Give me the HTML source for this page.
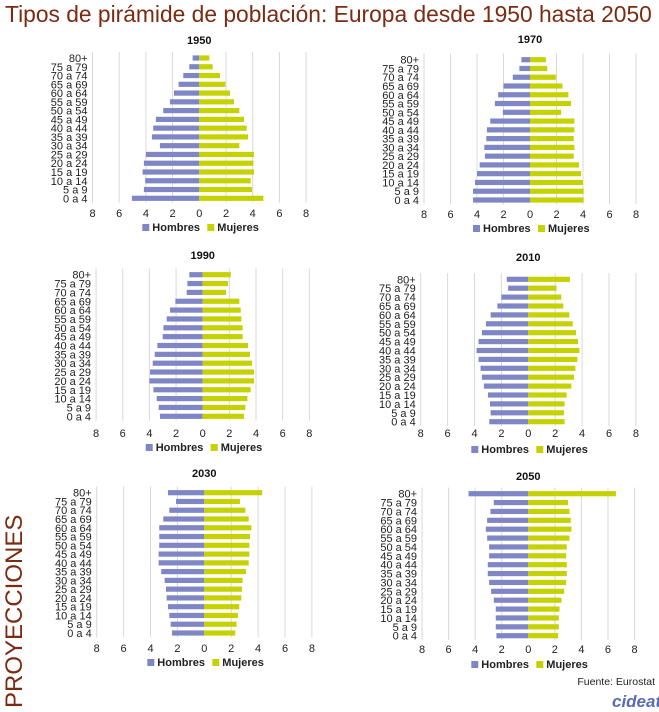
<!DOCTYPE html>
<html><head><meta charset="utf-8">
<style>
body{margin:0;background:#fff;}
svg{display:block;font-family:"Liberation Sans",sans-serif;}
</style></head>
<body>
<svg id="c" width="659" height="712" viewBox="0 0 659 712">
<text x="5" y="22" font-size="22.8" fill="#7b2b12">Tipos de pirámide de población: Europa desde 1950 hasta 2050</text>
<text transform="translate(22,708) rotate(-90)" font-size="24" fill="#7b2b12">PROYECCIONES</text>
<text x="655" y="685" font-size="10.5" text-anchor="end" fill="#222">Fuente:  Eurostat</text>
<g>
<text x="612" y="707" font-size="17" font-weight="bold" fill="#5b6bb5" font-style="italic">cideat</text>
</g>
</svg>
<script>
const ages=["0 a 4","5 a 9","10 a 14","15 a 19","20 a 24","25 a 29","30 a 34","35 a 39","40 a 44","45 a 49","50 a 54","55 a 59","60 a 64","65 a 69","70 a 74","75 a 79","80+"];
const ticks=[8,6,4,2,0,2,4,6,8];
const years=["1950","1970","1990","2010","2030","2050"];
const men1950=[5.05,4.15,4.05,4.25,4.15,4.0,2.95,3.55,3.45,3.25,2.7,2.2,1.9,1.55,1.2,0.75,0.5];
const women1950=[4.8,3.95,3.85,4.1,4.05,4.1,3.0,3.65,3.55,3.35,3.0,2.6,2.3,1.95,1.55,1.0,0.75];
const men1970=[4.3,4.3,4.15,4.0,3.8,3.4,3.45,3.3,3.25,3.0,2.05,2.65,2.4,2.0,1.3,0.8,0.65];
const women1970=[4.05,4.05,4.0,3.85,3.7,3.3,3.35,3.3,3.35,3.35,2.35,3.1,2.9,2.45,1.95,1.3,1.2];
const men1990=[3.2,3.3,3.45,3.7,4.0,3.95,3.75,3.6,3.4,3.0,2.95,2.7,2.45,2.05,1.2,1.15,1.0];
const women1990=[3.1,3.2,3.35,3.6,3.85,3.85,3.7,3.55,3.4,3.0,3.0,2.9,2.85,2.75,1.75,1.9,2.1];
const men2010=[2.9,2.8,2.85,3.0,3.3,3.45,3.55,3.7,3.85,3.7,3.45,3.15,2.8,2.3,2.0,1.5,1.6];
const women2010=[2.7,2.65,2.7,2.85,3.2,3.4,3.5,3.65,3.8,3.7,3.55,3.3,3.05,2.6,2.45,2.1,3.1];
const men2030=[2.4,2.5,2.6,2.7,2.8,2.85,2.95,3.2,3.4,3.4,3.35,3.35,3.35,3.05,2.6,2.1,2.7];
const women2030=[2.3,2.4,2.5,2.6,2.75,2.8,2.85,3.1,3.3,3.35,3.35,3.4,3.5,3.3,3.05,2.65,4.3];
const men2050=[2.4,2.45,2.45,2.45,2.6,2.8,2.95,3.05,3.05,2.95,2.95,3.1,3.2,3.1,2.85,2.6,4.5];
const women2050=[2.25,2.3,2.3,2.35,2.5,2.7,2.85,2.9,2.9,2.85,2.9,3.1,3.25,3.2,3.1,3.0,6.6];
const menSeries=[men1950,men1970,men1990,men2010,men2030,men2050];
const womenSeries=[women1950,women1970,women1990,women2010,women2030,women2050];
const geo=[
 {z:199.3,s:13.35,y0:198.3,y1:58,ty:44,tk:217,lg:231},
 {z:530,s:13.25,y0:200,y1:59.7,ty:43,tk:218,lg:232},
 {z:202.7,s:13.33,y0:416.3,y1:274.7,ty:259,tk:437,lg:451},
 {z:528.3,s:13.45,y0:421.7,y1:279.3,ty:261,tk:437,lg:453},
 {z:204.3,s:13.45,y0:633,y1:492.7,ty:477,tk:652,lg:666},
 {z:528.3,s:13.28,y0:635.7,y1:493.7,ty:480,tk:653,lg:668}
];
const NS="http://www.w3.org/2000/svg";
const svg=document.getElementById('c');
function mk(tag,attrs,parent){const e=document.createElementNS(NS,tag);for(const k in attrs)e.setAttribute(k,attrs[k]);parent.appendChild(e);return e;}
years.forEach((yr,p)=>{
 const g=geo[p];
 const xS=v=>g.z+v*g.s;
 const step=(g.y0-g.y1)/(ages.length-1);
 const yS=i=>g.y0-i*step;
 const grp=mk('g',{},svg);
 
 
 const title=mk('text',{x:g.z,y:g.ty,'font-size':11,'font-weight':'bold','text-anchor':'middle',fill:'#111'},grp);
 title.textContent=yr;
 
 
 const top=yS(ages.length-1)-step*0.7, bot=yS(0)+step*0.5;
 [-8,-6,-4,-2,2,4,6,8].forEach(v=>{
  const l=mk('line',{x1:xS(v),x2:xS(v),y1:top,y2:bot,stroke:'#d9d9d9','stroke-width':1},grp);
  
  
 });
 ticks.forEach((t,i)=>{
  const v=-8+i*2;
  const tx=mk('text',{x:xS(v),y:g.tk,'font-size':11,'text-anchor':'middle',fill:'#222'},grp);
  tx.textContent=t;
  
  
 });
 ages.forEach((a,i)=>{
  const y=yS(i);
  const lb=mk('text',{x:xS(-8)-5,y:y+4,'font-size':11,'text-anchor':'end',fill:'#222'},grp);
  lb.textContent=a;
  
  
  const m=menSeries[p][i], w=womenSeries[p][i];
  const bm=mk('rect',{x:xS(-m),y:y-2.6,width:m*g.s,height:5.2,fill:'#7f86c6'},grp);
  
  
  const bw=mk('rect',{x:g.z,y:y-2.6,width:w*g.s,height:5.2,fill:'#c6d200'},grp);
  
  
 });
 const lg=mk('g',{},grp);
 
 
 mk('rect',{x:g.z-57,y:g.lg-7,width:7,height:7,fill:'#7f86c6'},lg);
 const t1=mk('text',{x:g.z-47,y:g.lg,'font-size':11,'font-weight':'bold',fill:'#222'},lg);
 t1.textContent='Hombres';
 
 
 mk('rect',{x:g.z+8,y:g.lg-7,width:7,height:7,fill:'#c6d200'},lg);
 const t2=mk('text',{x:g.z+18,y:g.lg,'font-size':11,'font-weight':'bold',fill:'#222'},lg);
 t2.textContent='Mujeres';
 
 
});
</script>
</body></html>
